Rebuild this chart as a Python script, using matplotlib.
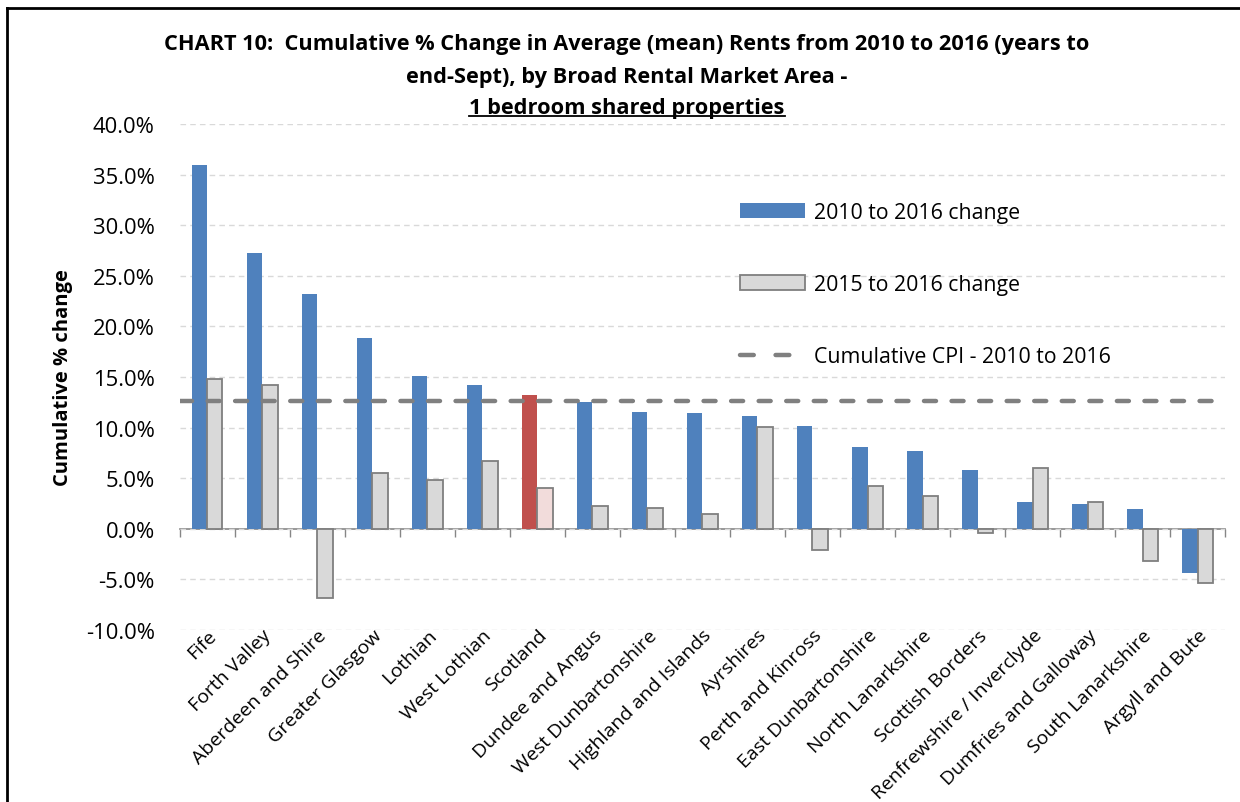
import matplotlib
matplotlib.use('Agg')
import matplotlib.pyplot as plt
from matplotlib.lines import Line2D
from matplotlib.ticker import FuncFormatter
import numpy as np

plt.rcParams['font.family'] = ['Open Sans', 'DejaVu Sans']

# data (percent)
areas = ['Fife', 'Forth Valley', 'Aberdeen and Shire', 'Greater Glasgow', 'Lothian',
         'West Lothian', 'Scotland', 'Dundee and Angus', 'West Dunbartonshire',
         'Highland and Islands', 'Ayrshires', 'Perth and Kinross', 'East Dunbartonshire',
         'North Lanarkshire', 'Scottish Borders', 'Renfrewshire / Inverclyde',
         'Dumfries and Galloway', 'South Lanarkshire', 'Argyll and Bute']
change_2010_2016 = [36.0, 27.3, 23.2, 18.9, 15.1, 14.2, 13.2, 12.5, 11.5, 11.4,
                    11.1, 10.2, 8.1, 7.7, 5.8, 2.6, 2.5, 2.0, -4.4]
change_2015_2016 = [14.8, 14.2, -6.8, 5.5, 4.8, 6.7, 4.0, 2.3, 2.1, 1.5,
                    10.1, -2.1, 4.2, 3.2, -0.4, 6.0, 2.6, -3.2, -5.4]
cpi_2010_2016 = 12.6
highlight = 'Scotland'

blue = '#4F81BD'
red = '#C0504D'
grey_face = '#D9D9D9'
pink_face = '#F2DCDB'
edge = '#7F7F7F'
cpi_grey = '#808080'

fig = plt.figure(figsize=(12.4, 8.03), dpi=100)
ax = fig.add_axes([0.145, 0.2142, 0.843, 0.6301])

x = np.arange(len(areas))
w = 0.276
c1 = [red if a == highlight else blue for a in areas]
c2 = [pink_face if a == highlight else grey_face for a in areas]
b1 = ax.bar(x - w / 2, change_2010_2016, w, color=c1, label='2010 to 2016 change', zorder=2)
b2 = ax.bar(x + w / 2, change_2015_2016, w, color=c2, edgecolor=edge, linewidth=1.3,
            label='2015 to 2016 change', zorder=2)
ax.axhline(cpi_2010_2016, color=cpi_grey, lw=3.2, dashes=(2.7, 3.5),
           dash_capstyle='round', zorder=3)

ax.set_xlim(-0.5, len(areas) - 0.5)
ax.set_ylim(-10, 40)
ax.set_yticks(np.arange(-10, 41, 5))
ax.yaxis.set_major_formatter(FuncFormatter(lambda v, p: f'{v:.1f}%'))
ax.tick_params(axis='y', length=0, pad=18, labelsize=15.8)
ax.yaxis.grid(True, color='#D9D9D9', linestyle=(0, (4, 3)), lw=1)
ax.set_axisbelow(True)
for s in ax.spines.values():
    s.set_visible(False)

ax.set_xticks(x)
ax.set_xticklabels(areas, rotation=45, ha='right', va='top', rotation_mode='anchor',
                   fontsize=14)
ax.tick_params(axis='x', length=0, pad=-3)

# zero line with category-boundary ticks
zero_frac = (0 - ax.get_ylim()[0]) / (ax.get_ylim()[1] - ax.get_ylim()[0])
sec = ax.secondary_xaxis(zero_frac)
sec.set_xticks(np.arange(-0.5, len(areas), 1))
sec.set_xticklabels([])
sec.tick_params(length=6, width=1, color='#868686', direction='out')
sec.spines['bottom'].set_color('#868686')
sec.spines['bottom'].set_linewidth(1.2)

ax.set_ylabel('Cumulative % change', fontsize=14.5, fontweight='bold', labelpad=9)

# legend key for the CPI line uses longer dashes, like the original
cpi_key = Line2D([], [], color=cpi_grey, lw=3.2, dashes=(3.1, 4.9),
                 dash_capstyle='round', label='Cumulative CPI - 2010 to 2016')
ax.legend(handles=[b1, b2, cpi_key], loc='upper left', bbox_to_anchor=(0.597, 0.747),
          bbox_transform=fig.transFigure, frameon=False, fontsize=15.3, handlelength=3.05,
          handleheight=0.7, handletextpad=0.4, labelspacing=2.4, borderpad=0,
          borderaxespad=0)

fig.text(0.5056, 0.944, 'CHART 10:  Cumulative % Change in Average (mean) Rents from 2010 to 2016 (years to',
         ha='center', va='center', fontsize=15.7, fontweight='bold')
fig.text(0.5056, 0.903, 'end-Sept), by Broad Rental Market Area -',
         ha='center', va='center', fontsize=15.7, fontweight='bold')
t3 = fig.text(0.5056, 0.865, '1 bedroom shared properties',
              ha='center', va='center', fontsize=15.7, fontweight='bold')

# underline the last title line
fig.canvas.draw()
bb = t3.get_window_extent().transformed(fig.transFigure.inverted())
fig.add_artist(Line2D([bb.x0, bb.x1], [bb.y0 + 0.002, bb.y0 + 0.002], color='black', lw=1.3))

# outer frame (top and left edges visible in the original)
fig.add_artist(Line2D([0.006, 1.0], [0.989, 0.989], color='black', lw=2))
fig.add_artist(Line2D([0.006, 0.006], [0.0, 0.989], color='black', lw=2))

fig.savefig('out.png', dpi=100)
